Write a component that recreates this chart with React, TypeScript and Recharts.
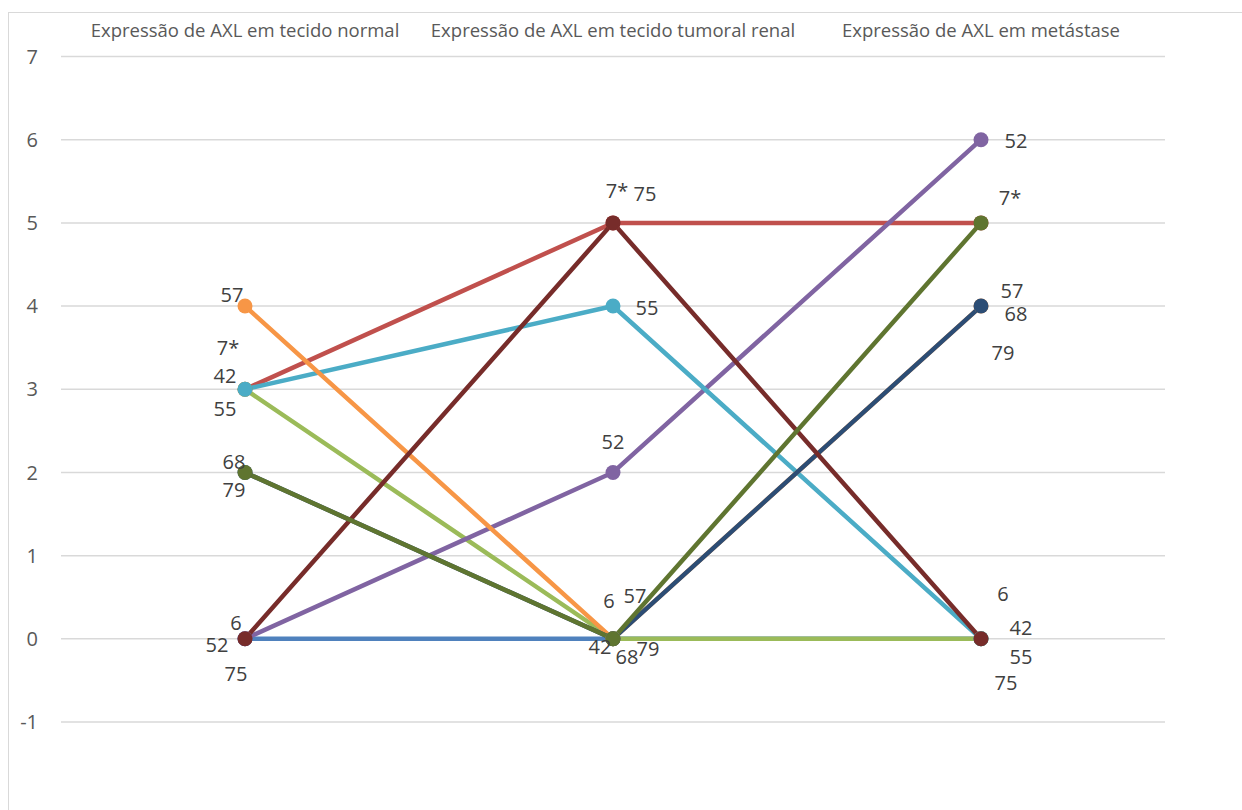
import { CartesianGrid, LabelList, Line, LineChart, XAxis, YAxis } from "recharts";

// categories on the top axis
const STAGES = [
  'Expressão de AXL em tecido normal',
  'Expressão de AXL em tecido tumoral renal',
  'Expressão de AXL em metástase',
]

// patient ids, one line each
const PATIENTS = ['6', '7*', '42', '52', '55', '57', '68', '75', '79']

// AXL score per patient: normal, tumour, metastasis
const P6 = [0, 0, 0]
const P7 = [3, 5, 5]
const P42 = [3, 0, 0]
const P52 = [0, 2, 6]
const P55 = [3, 4, 0]
const P57 = [4, 0, 4]
const P68 = [2, 0, 4]
const P75 = [0, 5, 0]
const P79 = [2, 0, 5]

const Y_TICKS = [-1, 0, 1, 2, 3, 4, 5, 6, 7]

const SERIES_VALUES = [P6, P7, P42, P52, P55, P57, P68, P75, P79]

const COLORS = ['#4F81BD', '#C0504D', '#9BBB59', '#8064A2', '#4BACC6', '#F79646', '#2C4D75', '#772C2A', '#5F7530']

// hand-placed label nudges (dx, dy) per point, like the moved labels in the workbook
const LABEL_NUDGE: Record<string, number[][]> = {
  '6': [[-9, -16], [-4, -38], [22, -45]],
  '7*': [[-17, -42], [4, -32], [29, -25]],
  '42': [[-20, -14], [-13, 8], [40, -11]],
  '52': [[-28, 6], [0, -31], [35, 1]],
  '55': [[-20, 19], [34, 1], [40, 18]],
  '57': [[-13, -12], [22, -43], [31, -16]],
  '68': [[-11, -11], [14, 18], [35, 7]],
  '75': [[-9, 35], [32, -29], [25, 44]],
  '79': [[-11, 17], [35, 10], [22, 130]],
}

const rows = STAGES.map((stage, i) => {
  const row: Record<string, string | number> = { stage }
  PATIENTS.forEach((p, s) => {
    row['p' + s] = SERIES_VALUES[s][i]
  })
  return row
})

function makeLabel(patient: string) {
  return (props: any) => {
    const { x, y, index } = props
    const [dx, dy] = LABEL_NUDGE[patient][index]
    return (
      <text
        x={x + dx}
        y={y + dy}
        textAnchor="middle"
        dominantBaseline="central"
        fontSize={20}
        fill="#404040"
      >
        {patient}
      </text>
    )
  }
}

export default function App() {
  return (
    <div style={{ position: 'fixed', left: 0, top: 0, width: 1242, height: 810, overflow: 'hidden', background: '#fff', fontFamily: '"Open Sans", sans-serif' }}>
      <div style={{ position: 'absolute', left: 8, top: 12, right: -20, bottom: -20, border: '1.5px solid #D9D9D9' }} />
      <LineChart
        width={1242}
        height={810}
        data={rows}
        margin={{ top: 16.5, right: 77, bottom: 88, left: 0 }}
        style={{ position: 'absolute', left: 0, top: 0 }}
      >
        <CartesianGrid vertical={false} stroke="#D9D9D9" strokeWidth={1.5} />
        <XAxis
          dataKey="stage"
          orientation="top"
          height={40}
          interval={0}
          axisLine={false}
          tickLine={false}
          tickMargin={14}
          padding={{ left: 184, right: 184 }}
          tick={{ fill: '#595959', fontSize: 18.5 }}
        />
        <YAxis
          width={61}
          domain={[-1, 7]}
          ticks={Y_TICKS}
          axisLine={false}
          tickLine={false}
          tickMargin={17}
          tick={{ fill: '#595959', fontSize: 20 }}
        />
        {PATIENTS.map((p, s) => (
          <Line
            key={p}
            dataKey={'p' + s}
            name={p}
            stroke={COLORS[s]}
            strokeWidth={4.5}
            dot={{ r: 7.5, fill: COLORS[s], stroke: 'none' }}
            activeDot={false}
            isAnimationActive={false}
          >
            <LabelList dataKey={'p' + s} content={makeLabel(p)} />
          </Line>
        ))}
      </LineChart>
    </div>
  )
}
